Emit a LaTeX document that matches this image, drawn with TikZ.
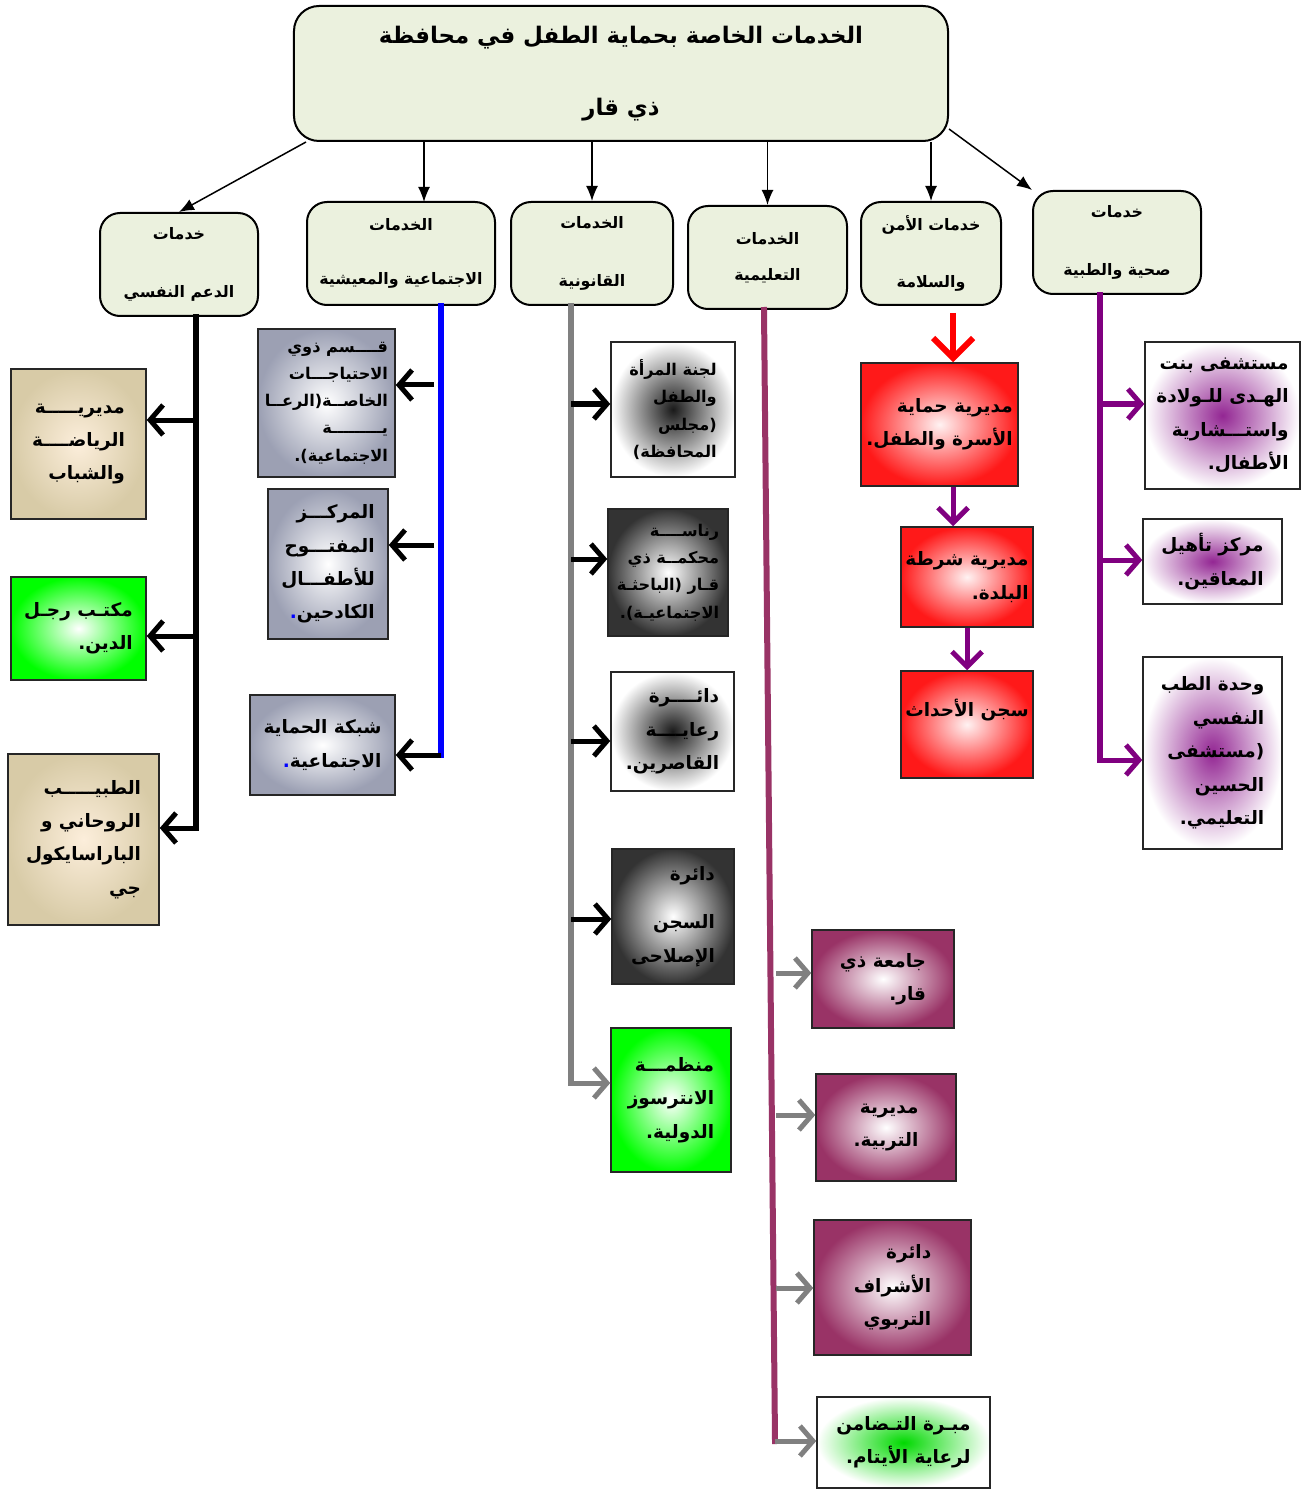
\documentclass[tikz,border=0pt]{standalone}
\usepackage[dvipsnames]{xcolor}
\usepackage{fontspec}
\newfontfamily\arabicfont[Script=Arabic]{DejaVu Sans}
\TeXXeTstate=1
\usetikzlibrary{arrows.meta}
\newcommand{\arl}[1]{\beginR #1\endR}
\newcommand{\stp}{\kern0pt.}
\newcommand{\bstp}{{\color{blue}.}}
\definecolor{groupfill}{HTML}{EBF1DE}
\definecolor{tanout}{HTML}{D8CBA7}
\definecolor{tanin}{HTML}{FCEEDB}
\definecolor{slate}{HTML}{8A8FA6}
\definecolor{maroon}{HTML}{993366}
\definecolor{purp}{HTML}{800080}

\begin{document}
\begin{tikzpicture}[x=0.2mm,y=-0.2mm,head node/.style={draw,line width=0.4mm,rounded corners=5mm,fill=groupfill,align=center,font=\arabicfont\bfseries\fontsize{13}{18}\selectfont},group node/.style={draw,line width=0.4mm,rounded corners=4mm,fill=groupfill,align=center,inner sep=0.5mm,font=\arabicfont\bfseries\fontsize{9}{13}\selectfont},item node/.style={draw=black!85,line width=0.3mm,align=right,inner sep=0.5mm,shade,shading=radial,font=\arabicfont\bfseries\fontsize{10.5}{19}\selectfont},small text/.style={font=\arabicfont\bfseries\fontsize{9.2}{15.5}\selectfont},title arrow/.style={-{Latex[length=3mm,width=2.4mm]},line width=0.3mm},bus/.style={line width=1.2mm,line cap=rect},branch/.style={-{Straight Barb[length=2.6mm,width=6mm]},line width=1mm}]
                    \useasboundingbox (0,0) rectangle (1312,1489);

                    \node[head node,minimum width=130.8mm,minimum height=27mm] (t) at (621,73.5) {\arl{الخدمات الخاصة بحماية الطفل في محافظة}\\[8.2mm]\arl{ذي قار}};

                    \node[group node,minimum width=31.6mm,minimum height=20.6mm] (a) at (179,264.5) {\arl{خدمات}\\[7mm]\arl{الدعم النفسي}};
                    \node[group node,minimum width=37.6mm,minimum height=20.6mm] (b) at (401,253.5) {\arl{الخدمات}\\[6.2mm]\arl{الاجتماعية والمعيشية}};
                    \node[group node,minimum width=32.4mm,minimum height=20.6mm] (c) at (592,253.5) {\arl{الخدمات}\\[7mm]\arl{القانونية}};
                    \node[group node,minimum width=31.8mm,minimum height=20.6mm] (d) at (767.5,257.5) {\arl{الخدمات}\\[2.6mm]\arl{التعليمية}};
                    \node[group node,minimum width=28mm,minimum height=20.6mm] (e) at (931,253.5) {\arl{خدمات الأمن}\\[7mm]\arl{والسلامة}};
                    \node[group node,minimum width=33.6mm,minimum height=20.6mm] (f) at (1117,242.5) {\arl{خدمات}\\[7mm]\arl{صحية والطبية}};

                    \node[item node,inner color=tanin,outer color=tanout,minimum width=27mm,minimum height=30mm] (a1) at (78.5,444) {\arl{مديريـــــة}\\\arl{الرياضــــة}\\\arl{والشباب}};
                    \node[item node,inner color=white,outer color=green,minimum width=27mm,minimum height=20.6mm] (a2) at (78.5,628.5) {\arl{مكتـب رجـل}\\\arl{الدين\stp}};
                    \node[item node,inner color=tanin,outer color=tanout,minimum width=30.2mm,minimum height=34.2mm] (a3) at (83.5,839.5) {\arl{الطبيـــــب}\\\arl{الروحاني و}\\\arl{الباراسايكول}\\\arl{جي}};

                    \node[item node,small text,inner color=white,outer color=slate!85,minimum width=27.4mm,minimum height=29.6mm] (b1) at (326.5,403) {\arl{قــــسم ذوي}\\\arl{الاحتياجـــات}\\\arl{الخاصــة(الرعــا}\\\arl{يـــــــــة}\\\arl{الاجتماعية)\stp}};
                    \node[item node,inner color=white,outer color=slate!85,minimum width=24mm,minimum height=30mm] (b2) at (328,564) {\arl{المركـــز}\\\arl{المفتـــوح}\\\arl{للأطفـــال}\\\bstp\arl{الكادحين}};
                    \node[item node,inner color=white,outer color=slate!85,minimum width=29mm,minimum height=20mm] (b3) at (322.5,745) {\arl{شبكة الحماية}\\\bstp\arl{الاجتماعية}};

                    \node[item node,small text,inner color=black!90,outer color=white,minimum width=24.8mm,minimum height=27mm] (c1) at (673,409.5) {\arl{لجنة المرأة}\\\arl{والطفل}\\\arl{(مجلس}\\\arl{المحافظة)}};
                    \node[item node,small text,inner color=white,outer color=black!80,minimum width=24mm,minimum height=25.4mm] (c2) at (668,572.5) {\arl{رناســــة}\\\arl{محكمــة ذي}\\\arl{قـار (الباحثـة}\\\arl{الاجتماعيـة)\stp}};
                    \node[item node,inner color=black!90,outer color=white,minimum width=24.6mm,minimum height=23.8mm] (c3) at (672.5,731.5) {\arl{دائــــرة}\\\arl{رعايــــة}\\\arl{القاصرين\stp}};
                    \node[item node,inner color=white,outer color=black!80,minimum width=24.4mm,minimum height=27mm] (c4) at (673,916.5) {\arl{دائرة}\\[3mm]\arl{السجن}\\\arl{الإصلاحى}};
                    \node[item node,inner color=white,outer color=green,minimum width=24mm,minimum height=28.8mm] (c5) at (671,1100) {\arl{منظمـــة}\\\arl{الانترسوز}\\\arl{الدولية\stp}};

                    \node[item node,inner color=white,outer color=maroon,minimum width=28.4mm,minimum height=19.6mm] (d1) at (883,979) {\arl{جامعة ذي}\\\arl{قار\stp}};
                    \node[item node,inner color=white,outer color=maroon,minimum width=28mm,minimum height=21.4mm] (d2) at (886,1127.5) {\arl{مديرية}\\\arl{التربية\stp}};
                    \node[item node,inner color=white,outer color=maroon,minimum width=31.4mm,minimum height=27mm] (d3) at (892.5,1287.5) {\arl{دائرة}\\\arl{الأشراف}\\\arl{التربوي}};
                    \node[item node,inner color=green!85!black,outer color=white,minimum width=34.6mm,minimum height=18.2mm] (d4) at (903.5,1442.5) {\arl{مبـرة التـضامن}\\\arl{لرعاية الأيتام\stp}};

                    \node[item node,inner color=red!5,outer color=red!90,minimum width=31.4mm,minimum height=24.6mm] (e1) at (939.5,424.5) {\arl{مديرية حماية}\\\arl{الأسرة والطفل\stp}};
                    \node[item node,inner color=red!5,outer color=red!90,minimum width=26.4mm,minimum height=20mm] (e2) at (967,577) {\arl{مديرية شرطة}\\\arl{البلدة\stp}};
                    \node[item node,inner color=red!5,outer color=red!90,minimum width=26.4mm,minimum height=21.4mm] (e3) at (967,724.5) {\arl{سجن الأحداث}\\~};

                    \node[item node,inner color=purp!85,outer color=white,minimum width=31mm,minimum height=29.4mm] (f1) at (1222.5,415.5) {\arl{مستشفى بنت}\\\arl{الهـدى للـولادة}\\\arl{واستـــشارية}\\\arl{الأطفال\stp}};
                    \node[item node,inner color=purp!85,outer color=white,minimum width=27.8mm,minimum height=17mm] (f2) at (1212.5,561.5) {\arl{مركز تأهيل}\\\arl{المعاقين\stp}};
                    \node[item node,inner color=purp!85,outer color=white,minimum width=27.8mm,minimum height=38.4mm] (f3) at (1212.5,753) {\arl{وحدة الطب}\\\arl{النفسي}\\\arl{(مستشفى}\\\arl{الحسين}\\\arl{التعليمي\stp}};

                    \coordinate (b0) at (424,202);
                    \path[title arrow]
                        ([xshift=2.6mm]t.south west) edge (a.north)
                        (t.south -| b0) edge (b0)
                        (t.south -| c.north) edge (c.north)
                        (t.south -| d.north) edge (d.north)
                        (t.south -| e.north) edge (e.north)
                        ([yshift=2.6mm]t.south east) edge (f.north west)
                        ;

                    \coordinate (a1j) at (196,420);
                    \coordinate (a2j) at (196,636);
                    \coordinate (a3j) at (196,828);
                    \draw[bus] (a.south -| a1j) -- (a3j);
                    \path[branch]
                        (a1j) edge (a1j -| a1.east)
                        (a2j) edge (a2j -| a2.east)
                        (a3j) edge (a3j -| a3.east)
                        ;

                    \coordinate (b1j) at (434,385);
                    \coordinate (b2j) at (434,545);
                    \coordinate (b3j) at (441,755);
                    \draw[bus,blue] (b.south -| b3j) -- (b3j);
                    \path[branch]
                        (b1j) edge (b1j -| b1.east)
                        (b2j) edge (b2j -| b2.east)
                        (b3j) edge (b3j -| b3.east)
                        ;

                    \coordinate (c1j) at (571,404);
                    \coordinate (c2j) at (571,559);
                    \coordinate (c3j) at (571,741);
                    \coordinate (c4j) at (571,919);
                    \coordinate (c5j) at (571,1083);
                    \draw[bus,gray] (c.south -| c5j) -- (c5j);
                    \path[branch]
                        (c1j) edge (c1j -| c1.west)
                        (c2j) edge (c2j -| c2.west)
                        (c3j) edge (c3j -| c3.west)
                        (c4j) edge (c4j -| c4.west)
                        ;
                    \path[branch,gray] (c5j) edge (c5j -| c5.west);

                    \coordinate (d0) at (764,0);
                    \coordinate (d1j) at (776,973);
                    \coordinate (d2j) at (776,1115);
                    \coordinate (d3j) at (776,1288);
                    \coordinate (d4j) at (775,1441);
                    \draw[bus,maroon] (d.south -| d0) -- (d4j);
                    \path[branch,gray]
                        (d1j) edge (d1j -| d1.west)
                        (d2j) edge (d2j -| d2.west)
                        (d3j) edge (d3j -| d3.west)
                        (d4j) edge (d4j -| d4.west)
                        ;

                    \coordinate (e0) at (953,0);
                    \draw[branch,red,line width=1.2mm,-{Straight Barb[length=4mm,width=8mm]}] ([yshift=-1.4mm]e.south -| e0) -- (e0 |- e1.north);
                    \path[branch,purp,-{Straight Barb[length=3mm,width=6mm]}]
                        (e1.south -| e0) edge (e0 |- e2.north)
                        (e2.south) edge (e3.north)
                        ;

                    \coordinate (f1j) at (1100,404);
                    \coordinate (f2j) at (1100,560);
                    \coordinate (f3j) at (1100,760);
                    \draw[bus,purp] (f.south -| f1j) -- (f3j);
                    \path[branch,purp]
                        (f1j) edge (f1j -| f1.west)
                        (f2j) edge (f2j -| f2.west)
                        (f3j) edge (f3j -| f3.west)
                        ;
                \end{tikzpicture}
\end{document}
